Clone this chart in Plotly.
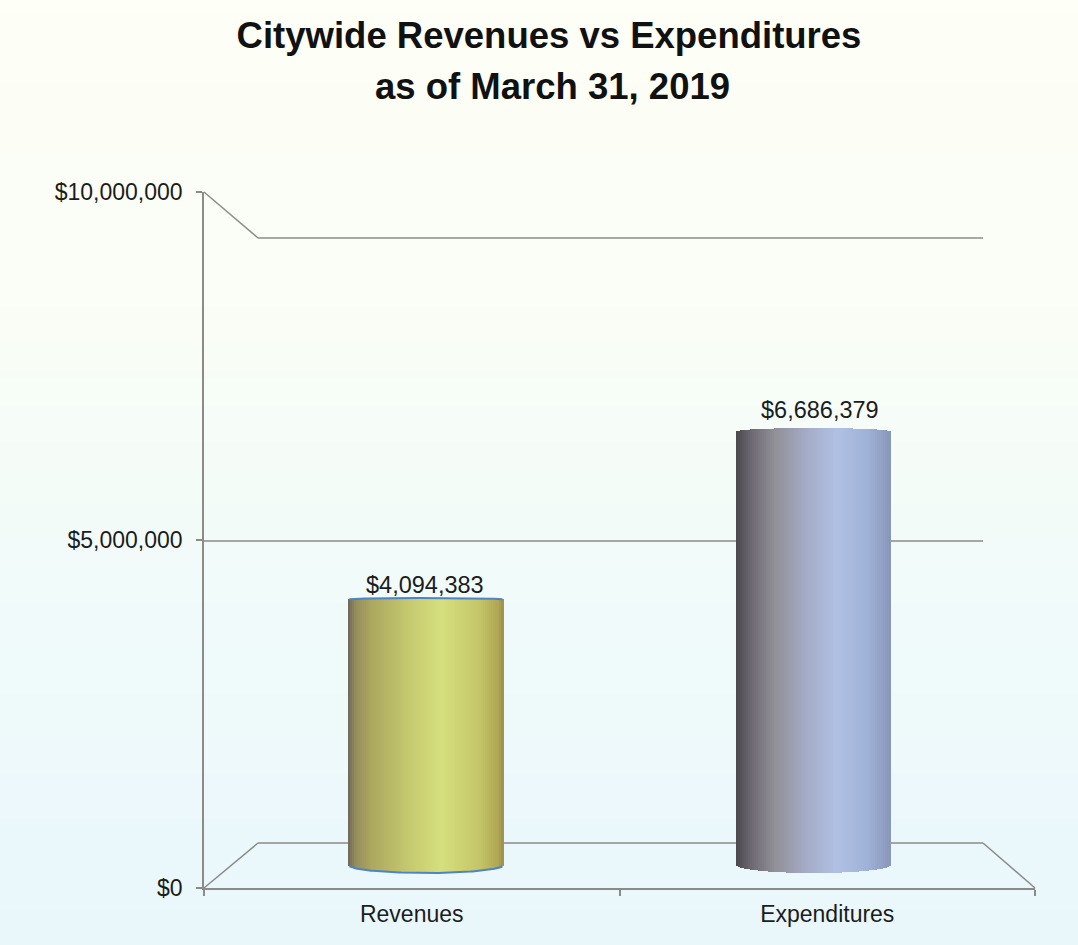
import numpy as np
import plotly.graph_objects as go

categories = ["Revenues", "Expenditures"]
values = [4094383, 6686379]
y_ticks = [0, 5000000, 10000000]
title_lines = ["Citywide Revenues vs Expenditures", "as of March 31, 2019"]

W, H = 1078, 945
L, R, T, B = 204, 1035, 192, 888   # plot area in page pixels
FONT = "Liberation Sans"
TXT = "#1c1c1c"
GRID = "#8b8b88"

def px(x): return (x - L) / (R - L)
def py(y): return (B - y) / (B - T)

# cylinder geometry
PX_PER_UNIT = (R - L) / 2
BAR_W = 155 / PX_PER_UNIT
SHIFT = [0.034, -0.033]
Y2_SCALE = 65.6 / 1e6     # pixels per dollar on the bars' depth plane
Y2_ZERO = 866.6
TOP_CURVE = [1.5, 3.5]
LABEL_DX = [-1, 6.5]
LABEL_DY = [-2, 3]
N = 78
t = (np.arange(N) + 0.5) / N * 2 - 1
arc = np.sqrt(1 - t ** 2)
edges_x = (t + 1) / 2

def ramp(stops):
    pos = [s[0] for s in stops]
    chans = [np.interp(edges_x, pos, [s[1][i] for s in stops]) for i in range(3)]
    return [f"rgb({int(a)},{int(b)},{int(c)})" for a, b, c in zip(*chans)]

shades = [
    ramp([(0, (110, 104, 92)), (.05, (150, 142, 94)), (.15, (172, 168, 96)), (.4, (198, 203, 112)),
          (.6, (214, 224, 126)), (.85, (196, 198, 104)), (.97, (176, 166, 84)), (1, (156, 145, 80))]),
    ramp([(0, (76, 72, 78)), (.1, (110, 106, 116)), (.25, (146, 144, 152)), (.45, (164, 171, 198)),
          (.65, (176, 193, 228)), (.85, (160, 178, 216)), (1, (136, 150, 184))]),
]

fig = go.Figure()
# keeps the left value axis drawn
fig.add_trace(go.Scatter(x=[0, 1], y=[None, None], mode="lines", showlegend=False, hoverinfo="skip"))
for i, (cat, val) in enumerate(zip(categories, values)):
    bottom = -(8.0 * arc - 1.6) / Y2_SCALE
    top = val - TOP_CURVE[i] * (1 - arc) / Y2_SCALE
    fig.add_trace(go.Bar(
        x=[i] * N, y=top - bottom, base=bottom, name=cat,
        offset=(t * BAR_W / 2 + SHIFT[i] - BAR_W / N * 0.6),
        width=[BAR_W / N * 1.2] * N,
        marker=dict(color=shades[i], line=dict(width=0)),
        yaxis="y2", showlegend=False, hoverinfo="skip",
    ))
    cx = i + SHIFT[i] + t * BAR_W / 2
    if i == 0:
        for yy in (top, bottom):
            fig.add_trace(go.Scatter(x=cx, y=yy, mode="lines", yaxis="y2", showlegend=False,
                                     hoverinfo="skip", line=dict(color="#4f83c4", width=2)))

labels = [dict(text=f"${v:,}", x=i + SHIFT[i], y=v, xref="x", yref="y2", xshift=LABEL_DX[i], yshift=LABEL_DY[i],
               xanchor="center", yanchor="bottom", showarrow=False, font=dict(family=FONT, size=23.5, color=TXT))
          for i, v in enumerate(values)]

# page background gradient
bg_stops_y = [0, 300, 600, 945]
bg_stops = [(254, 255, 246), (250, 254, 246), (241, 251, 250), (233, 247, 252)]
shapes = []
step = 9
for y0 in range(0, H, step):
    c = [int(np.interp(y0, bg_stops_y, [s[j] for s in bg_stops])) for j in range(3)]
    shapes.append(dict(type="rect", xref="paper", yref="paper", layer="below", line=dict(width=0),
                       x0=px(0), x1=px(W), y0=py(y0), y1=py(y0 + step + 1), fillcolor=f"rgb({c[0]},{c[1]},{c[2]})"))

def seg(points):
    for (a, b), (c, d) in zip(points, points[1:]):
        shapes.append(dict(type="line", xref="paper", yref="paper", layer="below",
                           x0=px(a), y0=py(b), x1=px(c), y1=py(d), line=dict(color=GRID, width=1.5)))

seg([(L, T), (258, 238), (983, 238)])
seg([(L, 541), (983, 541)])
seg([(L, B), (258, 843), (983, 843), (R, B)])

fig.update_layout(
    width=W, height=H, autosize=False, barmode="overlay", bargap=0,
    margin=dict(l=L, r=W - R, t=T, b=H - B, pad=0),
    paper_bgcolor="#f4fbf9", plot_bgcolor="rgba(0,0,0,0)",
    title=dict(text=title_lines[0], x=549 / W, xanchor="center", y=1 - 35 / H, yanchor="middle",
               font=dict(family=FONT, size=36.5, color="#111111", weight="bold")),
    annotations=[dict(text=f"<b>{title_lines[1]}</b>", xref="paper", yref="paper", x=px(552), y=py(87),
                      xanchor="center", yanchor="middle", showarrow=False,
                      font=dict(family=FONT, size=36.5, color="#111111"))] + labels,
    shapes=shapes,
    xaxis=dict(range=[-0.5, 1.5], tickvals=[0, 1], ticktext=categories, ticks="", showgrid=False, zeroline=False,
               showline=True, linecolor=GRID, linewidth=1.5, tickfont=dict(family=FONT, size=23, color=TXT),
               minor=dict(tickvals=[-0.5, 0.5, 1.5], ticks="outside", ticklen=6, tickcolor=GRID, tickwidth=1.5),
               ticklabelstandoff=5),
    yaxis=dict(range=[0, 10000000], tickvals=y_ticks, tickformat="$,d", ticks="outside", ticklen=6,
               tickcolor=GRID, tickwidth=1.5, showgrid=False, zeroline=False, showline=True,
               linecolor=GRID, linewidth=1.5, tickfont=dict(family=FONT, size=23, color=TXT), ticklabelstandoff=9),
    yaxis2=dict(overlaying="y", side="left", visible=False,
                range=[-(B - Y2_ZERO) / Y2_SCALE, (Y2_ZERO - T) / Y2_SCALE], fixedrange=True),
)

fig.write_html("out.html", config=dict(displayModeBar=False),
               post_script="document.body.style.margin='0';document.body.style.overflow='hidden';")
